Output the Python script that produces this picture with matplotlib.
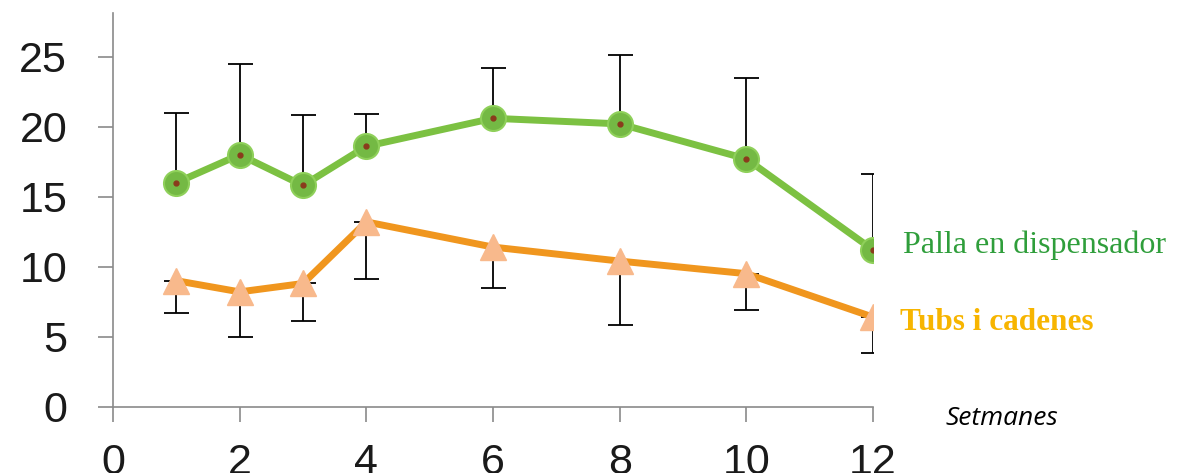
import matplotlib.pyplot as plt
import numpy as np

# Weeks and mean values with one-sided error bars
weeks = [1, 2, 3, 4, 6, 8, 10, 12]
palla = [16.0, 18.0, 15.8, 18.6, 20.6, 20.2, 17.7, 11.2]
palla_err = [5.0, 6.5, 5.0, 2.3, 3.6, 4.9, 5.8, 5.4]
tubs = [9.0, 8.2, 8.8, 13.2, 11.4, 10.4, 9.5, 6.4]
tubs_err = [2.3, 3.2, 2.7, 4.1, 2.9, 4.6, 2.6, 2.6]

x_ticks = [0, 2, 4, 6, 8, 10, 12]
y_ticks = [0, 5, 10, 15, 20, 25]

green_line = '#7cc142'
green_text = '#2f9e3b'
orange_line = '#f0961e'
orange_marker = '#f8b98c'
orange_text = '#f7b500'

fig = plt.figure(figsize=(11.82, 4.73), dpi=100, facecolor='white')
ax = fig.add_axes([0.0956, 0.1402, 0.6430, 0.8317])

zeros = np.zeros(len(weeks))

# error bars: upward for the green series, downward for the orange one
ax.errorbar(weeks, palla, yerr=[zeros, palla_err], fmt='none', ecolor='black',
            elinewidth=1.3, capsize=9, capthick=1.3, zorder=2)
ax.errorbar(weeks, tubs, yerr=[tubs_err, zeros], fmt='none', ecolor='black',
            elinewidth=1.3, capsize=9, capthick=1.3, zorder=2)

ax.plot(weeks, palla, color=green_line, linewidth=5, marker='o', markersize=18,
        markerfacecolor='#74b944', markeredgecolor='#8fd05a', markeredgewidth=1.5,
        zorder=3)
ax.plot(weeks, palla, linestyle='none', marker='o', markersize=3.5,
        color='#8a3b1c', zorder=4)
ax.plot(weeks, tubs, color=orange_line, linewidth=5, marker='^', markersize=19,
        markerfacecolor=orange_marker, markeredgecolor=orange_marker, zorder=3)

ax.set_xlim(0, 12)
ax.set_ylim(0, 28.1)
ax.set_xticks(x_ticks)
ax.set_yticks(y_ticks)

for side in ['top', 'right']:
    ax.spines[side].set_visible(False)
for side in ['left', 'bottom']:
    ax.spines[side].set_color('#8a8a8a')
    ax.spines[side].set_linewidth(1.2)

ax.tick_params(axis='both', colors='#8a8a8a', width=1.2, length=11,
               labelcolor='#1a1a1a', labelsize=31)
ax.tick_params(axis='y', pad=22)
ax.tick_params(axis='x', pad=15)
for lab in ax.get_xticklabels() + ax.get_yticklabels():
    lab.set_fontfamily('Liberation Sans')

# series labels at the right end of the lines
fig.text(903 / 1182, 1 - 245 / 473, 'Palla en dispensador', color=green_text,
         fontsize=23, family='Liberation Serif', ha='left', va='center')
fig.text(900 / 1182, 1 - 322 / 473, 'Tubs i cadenes', color=orange_text,
         fontsize=22.5, family='Liberation Serif', weight='bold',
         ha='left', va='center')
fig.text(945 / 1182, 1 - 418 / 473, 'Setmanes', color='black', fontsize=19,
         family='Open Sans', style='italic', ha='left', va='center')

fig.savefig('out.png', dpi=100)
